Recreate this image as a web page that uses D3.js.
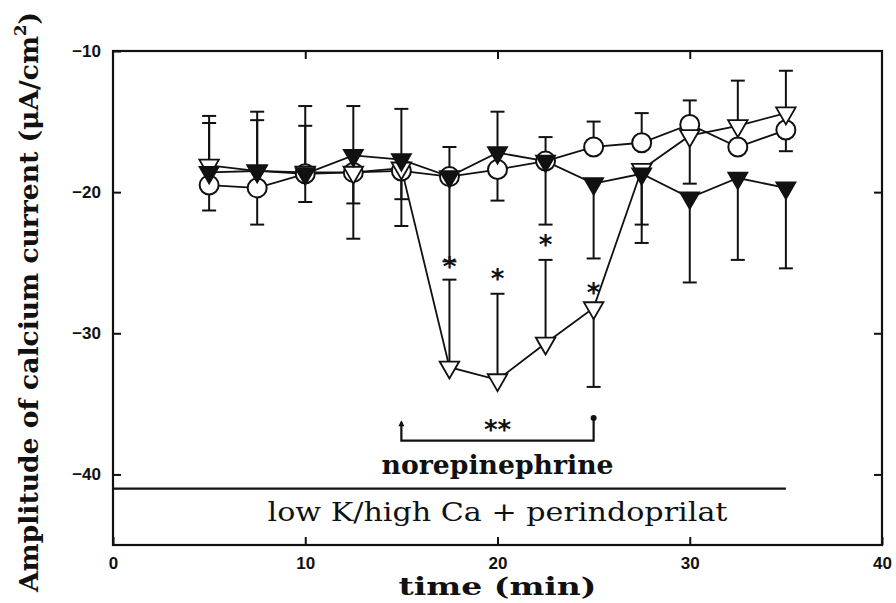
<!DOCTYPE html>
<html>
<head>
<meta charset="utf-8">
<script src="https://cdn.jsdelivr.net/npm/d3@7"></script>
<style>
  body { margin: 0; background: #fff; }
  text { fill: #111; }
</style>
</head>
<body>
<div id="chart"></div>
<script>
// time points (min)
const times = [5, 7.5, 10, 12.5, 15, 17.5, 20, 22.5, 25, 27.5, 30, 32.5, 35];

// open circles
const circleVals = [-19.5, -19.7, -18.7, -18.6, -18.5, -18.9, -18.4, -17.8, -16.8, -16.5, -15.2, -16.8, -15.6];
const circleUp   = [-15.1, -14.9, -15.3, null, null, -16.8, -14.3, -16.1, -15.0, -14.4, -13.5, null, null];
const circleDown = [null, null, null, -20.8, -20.5, null, null, null, null, null, null, null, -17.1];

// filled triangles
const filledVals = [-18.6, -18.5, -18.7, -17.4, -17.7, -18.9, -17.2, -17.8, -19.4, -18.7, -20.4, -19.0, -19.7];
const filledDown = [-21.3, -22.3, -20.7, -23.3, -22.4, -24.9, -20.6, -22.3, -24.7, -23.6, -26.4, -24.8, -25.4];

// open triangles
const openVals = [-18.1, -18.5, -18.6, -18.6, -18.3, -32.4, -33.3, -30.7, -28.2, -18.4, -16.0, -15.3, -14.4];
const openUp   = [-14.6, -14.3, -13.9, -13.9, -14.1, -26.2, -27.2, -24.8, null, null, null, -12.1, -11.4];
const openDown = [null, null, null, null, null, null, null, null, -33.8, -22.3, -19.4, null, null];

// significance marks
const starTimes = [17.5, 20, 22.5, 25];
const starVals = [-24.9, -25.8, -23.4, -26.8];

const xTicks = [0, 10, 20, 30, 40];
const yTicks = [-10, -20, -30, -40];

const width = 896, height = 603;
const margin = { top: 51, left: 113, right: 14, bottom: 58 };
const innerW = width - margin.left - margin.right;
const innerH = height - margin.top - margin.bottom;

const svg = d3.select('#chart').append('svg')
    .attr('width', width)
    .attr('height', height);

const g = svg.append('g').attr('transform', 'translate(' + margin.left + ',' + margin.top + ')');

const x = d3.scaleLinear().domain([0, 40]).range([0, innerW]);
const y = d3.scaleLinear().domain([-45, -10]).range([innerH, 0]);

// frame
g.append('rect')
    .attr('width', innerW).attr('height', innerH)
    .attr('fill', 'none').attr('stroke', '#111').attr('stroke-width', 2.2);

// axes, ticks point inward
const tickFont = 'Liberation Sans, Arial, sans-serif';
const xAxis = d3.axisBottom(x).tickValues(xTicks).tickSize(-8).tickSizeOuter(0).tickPadding(12)
    .tickFormat(d3.format('d'));
g.append('g').attr('class', 'axis x')
    .attr('transform', 'translate(0,' + innerH + ')')
    .call(xAxis);
g.append('g').attr('class', 'axis xt')
    .call(d3.axisTop(x).tickValues([10, 20, 30]).tickSize(-8).tickSizeOuter(0).tickFormat(''));

const yAxis = d3.axisLeft(y).tickValues(yTicks).tickSize(-8).tickSizeOuter(0).tickPadding(12)
    .tickFormat(d => '\u2212' + Math.abs(d));
g.append('g').attr('class', 'axis y').call(yAxis);
g.append('g').attr('class', 'axis yr')
    .attr('transform', 'translate(' + innerW + ',0)')
    .call(d3.axisRight(y).tickValues([-20, -30, -40]).tickSize(-8).tickSizeOuter(0).tickFormat(''));

g.selectAll('.axis .domain').remove();
g.selectAll('.axis line').attr('stroke', '#111').attr('stroke-width', 2);
g.selectAll('.axis text')
    .attr('font-family', tickFont).attr('font-weight', 'bold').attr('font-size', 17).attr('fill', '#111');

// error bars
const capW = 7;
function errorBars(vals, ends, cls) {
    const data = times.map((t, i) => ({ t: t, v: vals[i], e: ends[i] })).filter(d => d.e !== null);
    const eg = g.append('g').attr('class', cls);
    eg.selectAll('line.stem').data(data).enter().append('line')
        .attr('class', 'stem')
        .attr('x1', d => x(d.t)).attr('x2', d => x(d.t))
        .attr('y1', d => y(d.v)).attr('y2', d => y(d.e));
    eg.selectAll('line.cap').data(data).enter().append('line')
        .attr('class', 'cap')
        .attr('x1', d => x(d.t) - capW).attr('x2', d => x(d.t) + capW)
        .attr('y1', d => y(d.e)).attr('y2', d => y(d.e));
    eg.selectAll('line').attr('stroke', '#111').attr('stroke-width', 2);
}
errorBars(circleVals, circleUp, 'err-c-up');
errorBars(circleVals, circleDown, 'err-c-down');
errorBars(filledVals, filledDown, 'err-f-down');
errorBars(openVals, openUp, 'err-o-up');
errorBars(openVals, openDown, 'err-o-down');

// series lines
const line = d3.line().x((d, i) => x(times[i])).y(d => y(d));
[circleVals, openVals, filledVals].forEach(vals => {
    g.append('path').datum(vals)
        .attr('d', line)
        .attr('fill', 'none').attr('stroke', '#111').attr('stroke-width', 1.8);
});

// markers
g.selectAll('circle.m').data(circleVals).enter().append('circle')
    .attr('class', 'm')
    .attr('cx', (d, i) => x(times[i])).attr('cy', d => y(d)).attr('r', 9.5)
    .attr('fill', '#fff').attr('stroke', '#111').attr('stroke-width', 2);

const tri = d3.symbol(d3.symbolTriangle, 165);
g.selectAll('path.open').data(openVals).enter().append('path')
    .attr('class', 'open')
    .attr('d', tri)
    .attr('transform', (d, i) => 'translate(' + x(times[i]) + ',' + y(d) + ') rotate(180)')
    .attr('fill', '#fff').attr('stroke', '#111').attr('stroke-width', 1.8);
g.selectAll('path.filled').data(filledVals).enter().append('path')
    .attr('class', 'filled')
    .attr('d', tri)
    .attr('transform', (d, i) => 'translate(' + x(times[i]) + ',' + y(d) + ') rotate(180)')
    .attr('fill', '#111').attr('stroke', '#111').attr('stroke-width', 1.5);

// asterisks
g.selectAll('text.star').data(starVals).enter().append('text')
    .attr('class', 'star')
    .attr('x', (d, i) => x(starTimes[i])).attr('y', d => y(d))
    .attr('dy', '0.55em')
    .attr('text-anchor', 'middle')
    .attr('font-family', 'DejaVu Sans, sans-serif').attr('font-weight', 'bold').attr('font-size', 26)
    .text('*');

// norepinephrine bracket
const brY = y(-37.6), brTopL = y(-36.3), brTopR = y(-36.0);
g.append('path')
    .attr('d', 'M' + x(15) + ',' + brTopL + 'V' + brY + 'H' + x(25) + 'V' + brTopR)
    .attr('fill', 'none').attr('stroke', '#111').attr('stroke-width', 2.2);
g.append('path')
    .attr('d', 'M' + (x(15) - 3) + ',' + (brTopL + 4) + 'L' + x(15) + ',' + (brTopL - 2) + 'L' + (x(15) + 3) + ',' + (brTopL + 4) + 'Z')
    .attr('fill', '#111');
g.append('circle').attr('cx', x(25)).attr('cy', brTopR).attr('r', 3).attr('fill', '#111');
g.append('text')
    .attr('x', x(20)).attr('y', y(-36.5))
    .attr('dy', '0.55em')
    .attr('text-anchor', 'middle')
    .attr('font-family', 'DejaVu Sans, sans-serif').attr('font-weight', 'bold').attr('font-size', 26)
    .text('**');
g.append('text')
    .attr('x', x(20)).attr('y', y(-40))
    .attr('text-anchor', 'middle')
    .attr('font-family', 'DejaVu Serif, serif').attr('font-weight', 'bold').attr('font-size', 26)
    .attr('textLength', 232).attr('lengthAdjust', 'spacingAndGlyphs')
    .text('norepinephrine');

// low K / high Ca line
g.append('line')
    .attr('x1', x(0)).attr('x2', x(35))
    .attr('y1', y(-41)).attr('y2', y(-41))
    .attr('stroke', '#111').attr('stroke-width', 2.2);
g.append('text')
    .attr('x', x(20)).attr('y', y(-43.3))
    .attr('text-anchor', 'middle')
    .attr('font-family', 'DejaVu Serif, serif').attr('font-size', 26)
    .attr('textLength', 460).attr('lengthAdjust', 'spacingAndGlyphs')
    .text('low K/high Ca + perindoprilat');

// axis titles
svg.append('text')
    .attr('x', margin.left + x(20)).attr('y', 595)
    .attr('text-anchor', 'middle')
    .attr('font-family', 'DejaVu Serif, serif').attr('font-weight', 'bold').attr('font-size', 25)
    .attr('textLength', 198).attr('lengthAdjust', 'spacingAndGlyphs')
    .text('time (min)');

const yl = svg.append('text')
    .attr('transform', 'translate(38,302) rotate(-90)')
    .attr('text-anchor', 'middle')
    .attr('font-family', 'DejaVu Serif, serif').attr('font-weight', 'bold').attr('font-size', 26)
    .attr('textLength', 580).attr('lengthAdjust', 'spacingAndGlyphs');
yl.append('tspan').text('Amplitude of calcium current (\u03bcA/cm');
yl.append('tspan').attr('dy', -12).attr('font-size', 16).text('2');
yl.append('tspan').attr('dy', 12).text(')');
</script>
</body>
</html>
